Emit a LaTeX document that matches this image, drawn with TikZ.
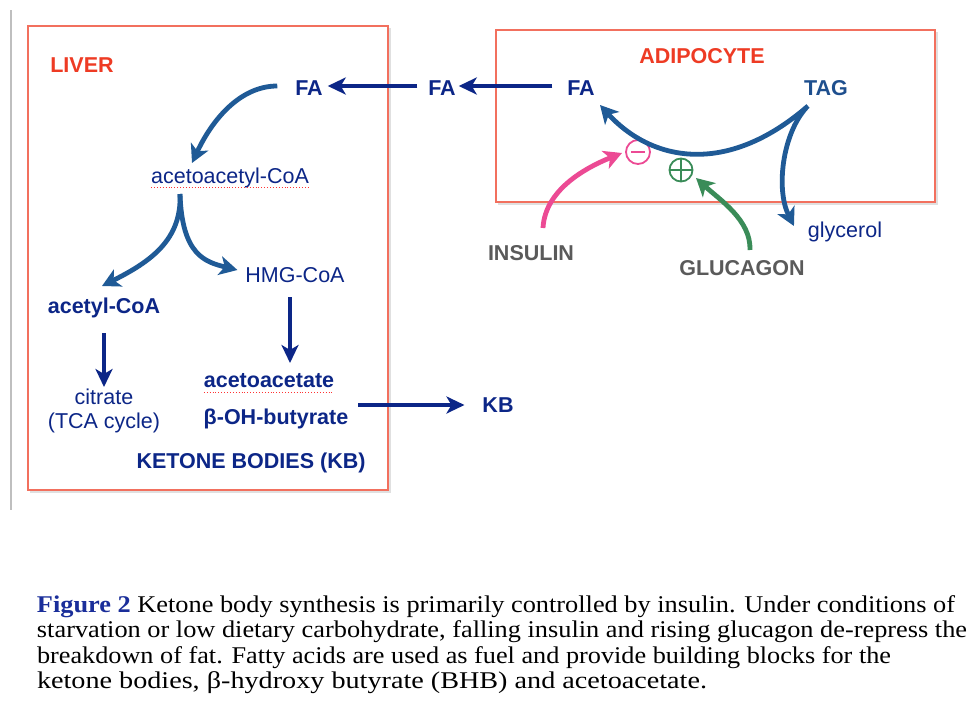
\documentclass[tikz,border=0pt]{standalone}
\usepackage{fontspec}
\usepackage{graphicx}
\setmainfont{Liberation Serif}
\newfontfamily\arial{Liberation Sans}
\usetikzlibrary{arrows.meta}
\definecolor{navyT}{HTML}{0C2687}
\definecolor{steel}{HTML}{1F5A96}
\definecolor{tagc}{HTML}{1E4F8E}
\definecolor{redT}{HTML}{EE3B24}
\definecolor{boxred}{HTML}{F2705E}
\definecolor{pinkc}{HTML}{EC4A94}
\definecolor{greenc}{HTML}{3A8C58}
\definecolor{grayT}{HTML}{5A5A5A}
\definecolor{capblue}{HTML}{1A2E9A}
\newcommand{\capline}[2]{\resizebox{#1}{\height}{\fontsize{24}{26}\selectfont #2}}
\begin{document}
\begin{tikzpicture}[x=1pt,y=-1pt,
  lbl/.style={font=\arial\fontsize{21.5}{24}\selectfont, inner sep=0pt, outer sep=0pt, text=navyT},
  blbl/.style={lbl, font=\arial\bfseries\fontsize{21.5}{24}\selectfont},
  straight/.style={draw=navyT, line width=4.5pt, -{Stealth[length=18pt,width=17pt,inset=5pt]}},
  curved/.style={draw=steel, line width=4.8pt, -{Stealth[length=18pt,width=19pt,inset=5pt]}},
  pinkarrow/.style={curved, draw=pinkc},
  greenarrow/.style={curved, draw=greenc},
  cellbox/.style={draw=boxred, line width=1.2pt},
  boxshadow/.style={draw=black!12, line width=2pt},
  capnode/.style={anchor=base west, inner sep=0pt, outer sep=0pt},
  redline/.style={draw=red!80, line width=0.9pt, dotted}
]
\useasboundingbox[fill=white] (0,0) rectangle (978,716);

% side rule
\draw[draw=black!25, line width=2pt] (11,10) -- (11,510);

% boxes
\draw[boxshadow] (30,491.5) -- (389.5,491.5) -- (389.5,28);
\draw[cellbox] (28,26) rectangle (388,490);
\draw[boxshadow] (498,203.5) -- (936.5,203.5) -- (936.5,32);
\draw[cellbox] (496,30) rectangle (935,202);

% titles
\node[blbl, text=redT] (liver) at (82,65) {LIVER};
\node[blbl, text=redT] (adip) at (702,56) {ADIPOCYTE};

% nodes
\node[blbl] (fa1) at (309,88) {FA};
\node[blbl] (fa2) at (442,88) {FA};
\node[blbl] (fa3) at (581,88) {FA};
\node[blbl, text=tagc] (tag) at (826,88) {TAG};
\node[lbl] (gly) at (845,232) {glycerol};
\node[blbl, text=grayT] (ins) at (531,253) {INSULIN};
\node[blbl, text=grayT] (glu) at (742,268) {GLUCAGON};
\node[lbl] (aacoa) at (230,178) {acetoacetyl-CoA};
\node[lbl] (hmg) at (295,275) {HMG-CoA};
\node[blbl] (acoa) at (104,308) {acetyl-CoA};
\node[lbl] (cit) at (104,397) {citrate};
\node[lbl] (tca) at (104,423) {(TCA cycle)};
\node[blbl] (aa) at (269,381) {acetoacetate};
\node[blbl] (bhb) at (276,419) {β-OH-butyrate};
\node[blbl] (kb) at (498,405) {KB};
\node[blbl] (ketb) at (251,463) {KETONE BODIES (KB)};

% spell-check underlines
\draw[redline] ([yshift=-9pt]aacoa.west) -- ([yshift=-9pt]aacoa.east);
\draw[redline] ([yshift=-11pt]aa.west) -- ([yshift=-11pt]aa.east);

% regulation symbols
\node[circle, draw=pinkc, line width=1.8pt, minimum size=24pt, inner sep=0pt, outer sep=0pt] (minus) at (638,152) {};
\draw[pinkc, line width=1.8pt] ([xshift=-7pt]minus.center) -- ([xshift=7pt]minus.center);
\node[circle, draw=greenc, line width=1.8pt, minimum size=23pt, inner sep=0pt, outer sep=0pt] (plus) at (681,170) {};
\draw[greenc, line width=1.8pt] (plus.north) -- (plus.south) (plus.west) -- (plus.east);

% straight arrows
\draw[straight] ([xshift=-15pt,yshift=2pt]fa3.west) -- ([xshift=3pt,yshift=2pt]fa2.east);
\draw[straight] ([xshift=-11pt,yshift=2pt]fa2.west) -- ([xshift=5pt,yshift=2pt]fa1.east);
\draw[straight] ([yshift=-25pt]acoa.center) -- ++(0,54);
\draw[straight] ([xshift=-5pt,yshift=-22pt]hmg.center) -- ++(0,66);
\draw[straight] ([xshift=10pt]bhb.east |- kb.west) -- ([xshift=-18pt]kb.west);

% curved arrows
\draw[curved] ([xshift=-18pt,yshift=2pt]fa1.west) .. controls (240,86) and (212,120) .. ([xshift=-38pt,yshift=15pt]aacoa.center);
\draw[curved] ([xshift=-50pt,yshift=-16pt]aacoa.center) .. controls (182,240) and (150,262) .. ([xshift=-2pt,yshift=22pt]acoa.center);
\draw[curved] ([xshift=-50pt,yshift=-16pt]aacoa.center) .. controls (182,255) and (205,262) .. ([xshift=-8pt,yshift=5pt]hmg.west);
\draw[curved] ([xshift=-18pt,yshift=-18pt]tag.center) .. controls (725,178) and (650,160) .. ([xshift=19pt,yshift=-17pt]fa3.center);
\draw[curved] ([xshift=-20pt,yshift=-20pt]tag.center) .. controls (782,135) and (776,190) .. ([xshift=-14pt,yshift=6pt]gly.west);
\draw[pinkarrow] ([xshift=12pt,yshift=25pt]ins.center) .. controls (545,190) and (585,168) .. ([xshift=-4pt,yshift=-1pt]minus.west);
\draw[greenarrow] ([xshift=8pt,yshift=18pt]glu.center) .. controls (751,220) and (720,200) .. ([xshift=15pt,yshift=-8pt]plus.center);

% caption
\node[capnode] (cap1) at (37,612) {\capline{918pt}{\textcolor{capblue}{\textbf{Figure 2}} Ketone body synthesis is primarily controlled by insulin. Under conditions of}};
\node[capnode] (cap2) at (37,637.5) {\capline{930pt}{starvation or low dietary carbohydrate, falling insulin and rising glucagon de-repress the}};
\node[capnode] (cap3) at (37,663) {\capline{854pt}{breakdown of fat. Fatty acids are used as fuel and provide building blocks for the}};
\node[capnode] (cap4) at (37,688.5) {\capline{670pt}{ketone bodies, β-hydroxy butyrate (BHB) and acetoacetate.}};
\end{tikzpicture}
\end{document}
